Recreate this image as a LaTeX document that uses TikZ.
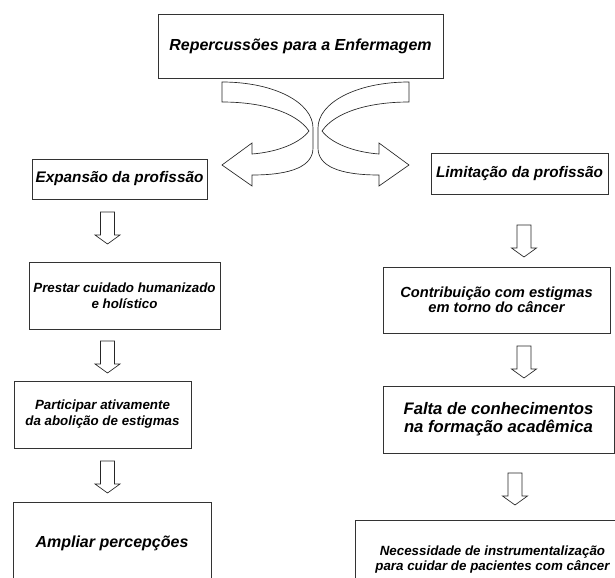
\documentclass[tikz,border=0pt]{standalone}
\usepackage{fontspec}
\setmainfont{Liberation Sans}
\usepackage{tikz}
\tikzset{
    caixa/.style={
        rectangle,
        draw=black!80, % 边框颜色
        line width=0.6pt,
        align=center,
        inner sep=0
    },
    fonte/.style 2 args={
        font=\bfseries\itshape\fontsize{#1}{#2}\selectfont % 粗斜体
    },
    seta/.style={
        draw=black!85,
        line width=0.5pt,
        fill=white
    }
}
% 向下的空心箭头
\newcommand{\setabaixo}[1]{%
    \draw[seta] (#1) ++(-7,0) -- ++(0,23) -- ++(-5.5,0) -- ++(12.5,9)
        -- ++(12.5,-9) -- ++(-5.5,0) -- ++(0,-23) -- cycle;
}
% 弯曲箭头
\newcommand{\setacurva}{%
    \draw[seta] (222,82) .. controls (275,82) and (313,103) .. (313,128)
        -- (313,148) .. controls (313,166) and (292,175) .. (252,175)
        -- (252,186) -- (222,165) -- (252,143) -- (252,154)
        .. controls (278,152) and (300,143) .. (309,131)
        .. controls (296,112) and (262,102) .. (222,102) -- cycle;
}

\begin{document}
\begin{tikzpicture}[x=0.75pt, y=-0.75pt]
    \useasboundingbox (0,0) rectangle (615,578);
    \clip (0,0) rectangle (615,578);

    % 顶部
    \node[caixa, fonte={12}{14}, minimum width=213.75pt, minimum height=48pt] (rep) at (300.5,46) {Repercussões para a Enfermagem};

    \setacurva
    \begin{scope}[shift={(631,0)}, xscale=-1]
        \setacurva
    \end{scope}

    % 左列
    \node[caixa, fonte={11.5}{14}, minimum width=131.25pt, minimum height=30pt] (exp) at (119.5,179) {Expansão da profissão};
    \node[caixa, fonte={10}{12}, minimum width=143.25pt, minimum height=50.25pt] (pre) at (124.5,295.5) {Prestar cuidado humanizado\\e holístico};
    \node[caixa, fonte={10}{12}, minimum width=132.75pt, minimum height=50.25pt] (par) at (102.5,414.5) {Participar ativamente\\da abolição de estigmas};
    \node[caixa, fonte={12}{14}, minimum width=148.5pt, minimum height=61.5pt] (amp) at (112,543) {Ampliar percepções};

    % 右列
    \node[caixa, fonte={11.5}{14}, minimum width=132.75pt, minimum height=30.75pt] (lim) at (519.5,173.5) {Limitação da profissão};
    \node[caixa, fonte={11}{11}, minimum width=170.25pt, minimum height=49.5pt] (con) at (496.5,300) {Contribuição com estigmas\\em torno do câncer};
    \node[caixa, fonte={12.5}{13.5}, minimum width=173.25pt, minimum height=50.25pt] (fal) at (498.5,419.5) {Falta de conhecimentos\\na formação acadêmica};
    \node[caixa, fonte={10}{11.5}, minimum width=206.25pt, minimum height=59.25pt] (nec) at (492.5,559.5) {Necessidade de instrumentalização\\para cuidar de pacientes com câncer};

    % 箭头
    \coordinate (e1) at (107.5,212);
    \coordinate (e2) at (107.5,341);
    \coordinate (e3) at (107.5,461);
    \coordinate (d1) at (524,225);
    \coordinate (d2) at (524,346);
    \coordinate (d3) at (515,473);
    \setabaixo{e1}
    \setabaixo{e2}
    \setabaixo{e3}
    \setabaixo{d1}
    \setabaixo{d2}
    \setabaixo{d3}
\end{tikzpicture}
\end{document}
